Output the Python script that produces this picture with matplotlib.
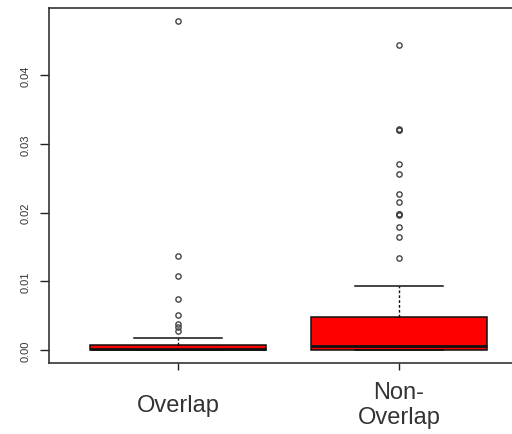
import matplotlib
matplotlib.use("Agg")
import matplotlib.pyplot as plt

plt.rcParams['font.family'] = ['Liberation Sans', 'DejaVu Sans']

# Daten
gruppen = ["Overlap", "Non-\nOverlap"]
q1 = [0.0, 0.0]
median = [0.0001, 0.00063]
q3 = [0.0008, 0.00473]
whisker_lo = [0.0, 0.0]
whisker_hi = [0.0017, 0.00927]
ausreisser_overlap = [0.04785, 0.01372, 0.01081, 0.00742, 0.00509,
                      0.0038, 0.0033, 0.0028]
ausreisser_non_overlap = [0.04436, 0.03215, 0.03195, 0.0320, 0.02705, 0.0256,
                          0.02269, 0.02148, 0.01985, 0.0197, 0.01978,
                          0.01785, 0.01639, 0.01338]
ausreisser = [ausreisser_overlap, ausreisser_non_overlap]

stats = []
for i in range(len(gruppen)):
    stats.append({
        "label": gruppen[i],
        "q1": q1[i], "med": median[i], "q3": q3[i],
        "whislo": whisker_lo[i], "whishi": whisker_hi[i],
        "fliers": ausreisser[i],
    })

fig = plt.figure(figsize=(5.12, 4.35), dpi=100)
ax = fig.add_axes([49 / 512, 71 / 435, 478 / 512, 355 / 435])

ax.bxp(stats, positions=[1, 2], widths=0.8, patch_artist=True,
       capwidths=0.4,
       boxprops=dict(facecolor="#ff0000", edgecolor="#111111", linewidth=1.1),
       medianprops=dict(color="#111111", linewidth=2.0),
       whiskerprops=dict(color="#111111", linewidth=1.0, linestyle=(0, (2, 1.5))),
       capprops=dict(color="#111111", linewidth=1.1),
       flierprops=dict(marker="o", markersize=3.8, markerfacecolor="none",
                       markeredgecolor="#444444", markeredgewidth=1.0))

ax.set_xlim(0.416, 2.58)
ax.set_ylim(-0.00189, 0.04975)
ax.set_yticks([0.0, 0.01, 0.02, 0.03, 0.04])
ax.set_yticklabels(["0.00", "0.01", "0.02", "0.03", "0.04"])

for s in ax.spines.values():
    s.set_color("#333333")
    s.set_linewidth(1.2)

ax.tick_params(axis="y", length=6.5, width=1.0, color="#222222",
               labelsize=8, labelcolor="#333333", pad=7, labelrotation=90)
for t in ax.get_yticklabels():
    t.set_va("center")
ax.tick_params(axis="x", length=5, width=1.0, color="#222222",
               labelsize=17, labelcolor="#333333", pad=25)
for t in ax.get_xticklabels():
    t.set_va("center")
    t.set_multialignment("center")
    t.set_linespacing(1.15)

plt.savefig("out.png", dpi=100)
